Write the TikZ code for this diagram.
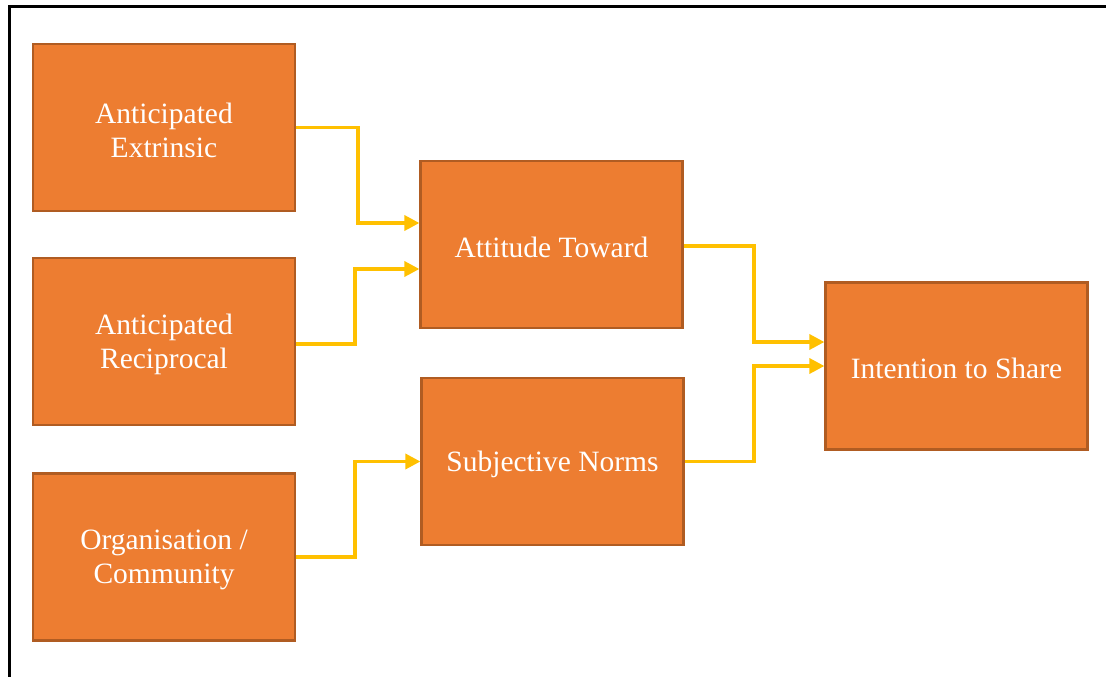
\documentclass[tikz,border=0pt]{standalone}
\usepackage{fontspec}
\setmainfont{Liberation Serif}
\usetikzlibrary{arrows.meta}
\definecolor{boxfill}{HTML}{ED7D31}
\definecolor{boxline}{HTML}{B05C22}
\definecolor{flow}{HTML}{FFC000}
% taller first line, so the labels sit a little lower in their boxes
\newcommand\stagestrut{\rule{0pt}{26pt}}
\begin{document}
\begin{tikzpicture}[x=1pt,y=-1pt,
  stage/.style={draw=boxline, line width=2.2pt, fill=boxfill, text=white,
    minimum width=262pt, minimum height=167pt, align=center, inner sep=0pt,
    font=\fontsize{29.5}{34}\selectfont},
  flowarrow/.style={draw=flow, line width=3.4pt,
    -{Triangle[length=15pt,width=15pt]}}]
\useasboundingbox (0,0) rectangle (1106,677);
% frame
\draw[line width=3pt, line cap=rect] (9,680) -- (9,6.5) -- (1110,6.5);
% boxes
\node[stage] (ext) at (164,127.5) {\stagestrut Anticipated\\Extrinsic};
\node[stage] (rec) at (164,341.5) {\stagestrut Anticipated\\Reciprocal};
\node[stage] (org) at (164,557) {\stagestrut Organisation /\\Community};
\node[stage] (att) at (551.5,244.5) {\stagestrut Attitude Toward};
\node[stage] (sub) at (552.5,461.5) {\stagestrut Subjective Norms};
\node[stage] (int) at (956.5,366) {\stagestrut Intention to Share};
% bend columns and entry points
\coordinate (bendA) at (358,0);
\coordinate (bendB) at (355,0);
\coordinate (bendC) at (754,0);
\coordinate (attA) at (att.west |- 0,223);
\coordinate (attB) at (att.west |- 0,269);
\coordinate (intA) at (int.west |- 0,342);
% connectors
\draw[flowarrow] (ext.east) -| (bendA |- attA) -- (attA);
\draw[flowarrow] (rec.east |- 0,344) -| (bendB |- attB) -- (attB);
\draw[flowarrow] (org.east) -| (bendB |- sub.west) -- (sub.west);
\draw[flowarrow] (att.east |- 0,246) -| (bendC |- intA) -- (intA);
\draw[flowarrow] (sub.east) -| (bendC |- int.west) -- (int.west);
\end{tikzpicture}
\end{document}
